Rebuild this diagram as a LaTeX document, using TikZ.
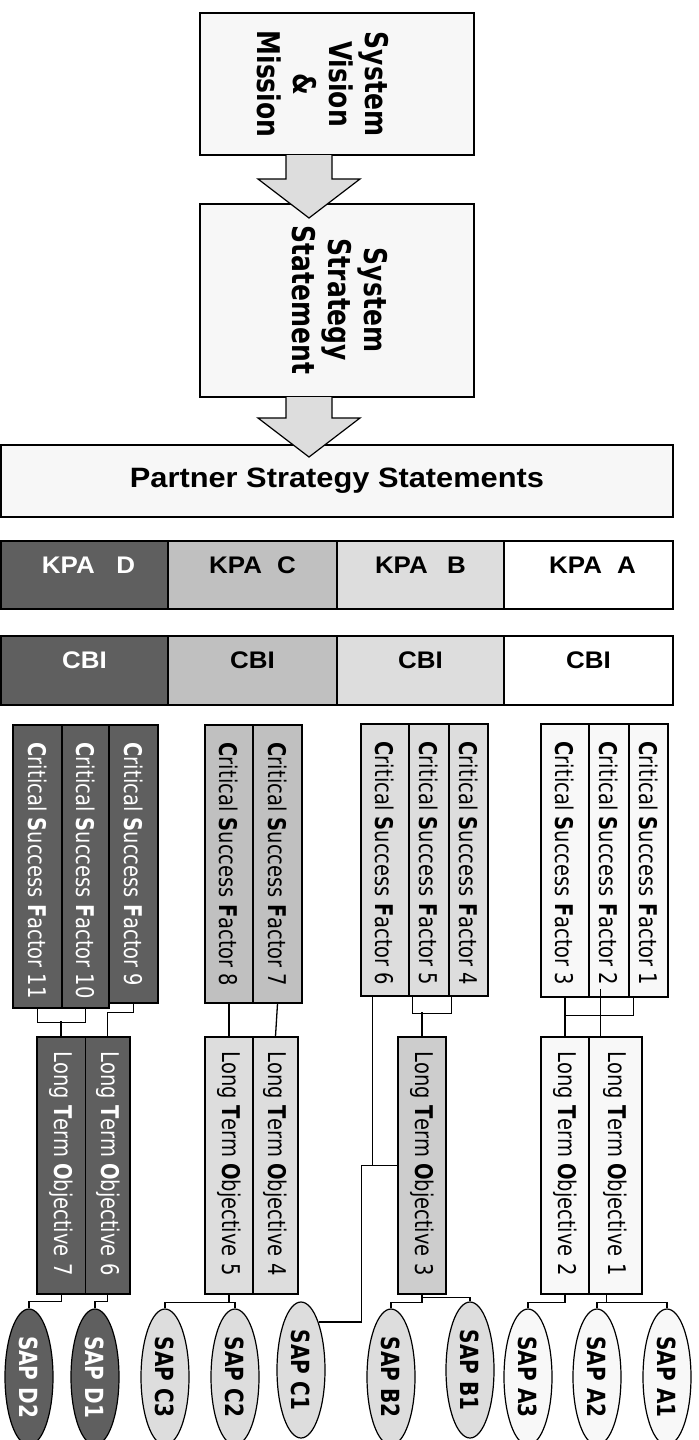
\documentclass[tikz,border=0pt]{standalone}
\usepackage{fontspec}
\setmainfont{DejaVu Sans}
\newfontfamily\lsans{Liberation Sans}
\usetikzlibrary{shapes.geometric,fit,calc}
\definecolor{cD}{HTML}{5F5F5F}
\definecolor{cC}{HTML}{C0C0C0}
\definecolor{cB}{HTML}{DDDDDD}
\definecolor{cBL}{HTML}{CDCDCD}
\definecolor{cA}{HTML}{F8F8F8}
\definecolor{cTop}{HTML}{F7F7F7}
\definecolor{cArrow}{HTML}{DDDDDD}
\newcommand{\vtxt}[1]{\scalebox{1}[1.25]{#1}}
\newcommand{\csfl}[1]{\vtxt{\textbf{C}ritical \textbf{S}uccess \textbf{F}actor #1}}
\newcommand{\ltol}[1]{\vtxt{Long \textbf{T}erm \textbf{O}bjective #1}}
\begin{document}
\begin{tikzpicture}[x=0.5pt,y=-0.5pt,
  box/.style={draw=black,line width=0.75pt,inner sep=0pt},
  bigbox/.style={draw=black,line width=1pt,inner sep=0pt,fill=cTop},
  lbl/.style={rotate=-90,anchor=west,inner sep=0pt,font=\fontsize{9.75pt}{11pt}\selectfont},
  toplbl/.style={rotate=-90,inner sep=0pt,font=\bfseries\fontsize{12.5pt}{14.4pt}\selectfont},
  kpal/.style={inner sep=0pt,font=\lsans\bfseries\fontsize{12pt}{14pt}\selectfont},
  sap/.style={ellipse,draw=black,line width=0.6pt,minimum width=24pt,minimum height=68pt,inner sep=0pt,font=\bfseries\fontsize{10pt}{12pt}\selectfont},
  conn/.style={draw=black,line width=0.65pt},
  connthick/.style={draw=black,line width=1.1pt},
  blockarrow/.style={draw=black,line width=0.6pt,fill=cArrow,line join=miter}]
\clip (0,0) rectangle (698,1440);
% top boxes
\node[bigbox,fit={(200,13) (474,155)}] (box1) {};
\node[toplbl] (box1t) at (319,84) {\vtxt{\begin{tabular}{@{}c@{}}System\\Vision\\\&\\Mission\end{tabular}}};
\node[bigbox,fit={(200,204) (474,397)}] (box2) {};
\node[toplbl] (box2t) at (336,300) {\vtxt{\begin{tabular}{@{}c@{}}System\\Strategy\\Statement\end{tabular}}};
\node[box,fill=cTop,fit={(1,445) (673,517)}] (partner) {};
\node[inner sep=0pt,font=\lsans\bfseries\fontsize{14pt}{16pt}\selectfont] (partnert) at (partner.center) {\scalebox{1.1}[1]{Partner Strategy Statements}};
% arrows
\draw[blockarrow] (286,155) -- (286,179) -- (258,179) -- (309,218) -- (360,179) -- (332,179) -- (332,155);
\draw[blockarrow] (286,397) -- (286,418) -- (258,418) -- (309,457) -- (360,418) -- (332,418) -- (332,397);
% KPA row
\node[box,fill=cD,fit={(1,541) (168,609)}] (kpad) {};
\node[box,fill=cC,fit={(168,541) (337,609)}] (kpac) {};
\node[box,fill=cB,fit={(337,541) (504,609)}] (kpab) {};
\node[box,fill=white,fit={(504,541) (673,609)}] (kpaa) {};
\node[kpal,text=white] (kpadt) at ($(kpad.north)+(4,25)$) {\scalebox{1.08}[1]{KPA\hspace{10pt}D}};
\node[kpal] (kpact) at ($(kpac.north)+(0,25)$) {\scalebox{1.08}[1]{KPA\hspace{7pt}C}};
\node[kpal] (kpabt) at ($(kpab.north)+(0,25)$) {\scalebox{1.08}[1]{KPA\hspace{9pt}B}};
\node[kpal] (kpaat) at ($(kpaa.north)+(4,25)$) {\scalebox{1.08}[1]{KPA\hspace{7pt}A}};
% CBI row
\node[box,fill=cD,fit={(1,636) (168,705)}] (cbid) {};
\node[box,fill=cC,fit={(168,636) (337,705)}] (cbic) {};
\node[box,fill=cB,fit={(337,636) (504,705)}] (cbib) {};
\node[box,fill=white,fit={(504,636) (673,705)}] (cbia) {};
\node[kpal,text=white] (cbidt) at ($(cbid.north)+(0,25)$) {\scalebox{1.08}[1]{CBI}};
\node[kpal] (cbict) at ($(cbic.north)+(0,25)$) {\scalebox{1.08}[1]{CBI}};
\node[kpal] (cbibt) at ($(cbib.north)+(0,25)$) {\scalebox{1.08}[1]{CBI}};
\node[kpal] (cbiat) at ($(cbia.north)+(0,25)$) {\scalebox{1.08}[1]{CBI}};
% CSF boxes
\node[box,fill=cD,fit={(13,725) (62,1008)}] (csf11) {};
\node[box,fill=cD,fit={(62,725) (109,1008)}] (csf10) {};
\node[box,fill=cD,fit={(109,725) (158,1003)}] (csf9) {};
\node[box,fill=cC,fit={(205,725) (253,1003)}] (csf8) {};
\node[box,fill=cC,fit={(253,725) (302,1003)}] (csf7) {};
\node[box,fill=cB,fit={(361,724) (409,996)}] (csf6) {};
\node[box,fill=cB,fit={(409,724) (449,996)}] (csf5) {};
\node[box,fill=cB,fit={(449,724) (488,996)}] (csf4) {};
\node[box,fill=cA,fit={(541,724) (589,997)}] (csf3) {};
\node[box,fill=cA,fit={(589,724) (629,997)}] (csf2) {};
\node[box,fill=cA,fit={(629,724) (668,997)}] (csf1) {};
\node[lbl,text=white] (csf11t) at ($(csf11.north)+(0,18)$) {\csfl{11}};
\node[lbl,text=white] (csf10t) at ($(csf10.north)+(0,18)$) {\csfl{10}};
\node[lbl,text=white] (csf9t) at ($(csf9.north)+(0,18)$) {\csfl{9}};
\node[lbl] (csf8t) at ($(csf8.north)+(0,18)$) {\csfl{8}};
\node[lbl] (csf7t) at ($(csf7.north)+(0,18)$) {\csfl{7}};
\node[lbl] (csf6t) at ($(csf6.north)+(0,18)$) {\csfl{6}};
\node[lbl] (csf5t) at ($(csf5.north)+(0,18)$) {\csfl{5}};
\node[lbl] (csf4t) at ($(csf4.north)+(0,18)$) {\csfl{4}};
\node[lbl] (csf3t) at ($(csf3.north)+(0,18)$) {\csfl{3}};
\node[lbl] (csf2t) at ($(csf2.north)+(0,18)$) {\csfl{2}};
\node[lbl] (csf1t) at ($(csf1.north)+(0,18)$) {\csfl{1}};
% LTO boxes
\node[box,fill=cD,fit={(37,1037) (85.5,1294)}] (lto7) {};
\node[box,fill=cD,fit={(85.5,1037) (130,1294)}] (lto6) {};
\node[box,fill=cB,fit={(205,1037) (253,1294)}] (lto5) {};
\node[box,fill=cB,fit={(253,1037) (298,1294)}] (lto4) {};
\node[box,fill=cBL,fit={(398,1037) (446,1294)}] (lto3) {};
\node[box,fill=cA,fit={(541,1037) (589,1294)}] (lto2) {};
\node[box,fill=cA,fit={(589,1037) (642,1294)}] (lto1) {};
\node[lbl,text=white] (lto7t) at ($(lto7.north)+(0,15)$) {\ltol{7}};
\node[lbl,text=white] (lto6t) at ($(lto6.north)+(0,15)$) {\ltol{6}};
\node[lbl] (lto5t) at ($(lto5.north)+(0,15)$) {\ltol{5}};
\node[lbl] (lto4t) at ($(lto4.north)+(0,15)$) {\ltol{4}};
\node[lbl] (lto3t) at ($(lto3.north)+(0,15)$) {\ltol{3}};
\node[lbl] (lto2t) at ($(lto2.north)+(0,15)$) {\ltol{2}};
\node[lbl] (lto1t) at ($(lto1.north)+(0,15)$) {\ltol{1}};
% SAP ellipses
\node[sap,fill=cD,text=white] (sapd2) at (29,1377) {\rotatebox{-90}{\vtxt{SAP D2}}};
\node[sap,fill=cD,text=white] (sapd1) at (95,1377) {\rotatebox{-90}{\vtxt{SAP D1}}};
\node[sap,fill=cB] (sapc3) at (165,1377) {\rotatebox{-90}{\vtxt{SAP C3}}};
\node[sap,fill=cB] (sapc2) at (235,1377) {\rotatebox{-90}{\vtxt{SAP C2}}};
\node[sap,fill=cB] (sapc1) at (301,1370) {\rotatebox{-90}{\vtxt{SAP C1}}};
\node[sap,fill=cB] (sapb2) at (391,1377) {\rotatebox{-90}{\vtxt{SAP B2}}};
\node[sap,fill=cB] (sapb1) at (470,1370) {\rotatebox{-90}{\vtxt{SAP B1}}};
\node[sap,fill=cA] (sapa3) at (528,1377) {\rotatebox{-90}{\vtxt{SAP A3}}};
\node[sap,fill=cA] (sapa2) at (597,1377) {\rotatebox{-90}{\vtxt{SAP A2}}};
\node[sap,fill=cA] (sapa1) at (667,1377) {\rotatebox{-90}{\vtxt{SAP A1}}};
% connectors CSF -> LTO
\draw[conn] (csf11.south) -- ++(0,14) -| (csf10.south);
\draw[connthick] (lto7.north) -- ++(0,-15);
\draw[conn] (csf9.south) -- ++(0,9) -| (lto6.north);
\draw[conn] (csf8.south) -- (lto5.north);
\draw[conn] (csf7.south) -- (lto4.north);
\draw[conn] ($(csf5.south west)+(4,0)$) -- ++(0,17) -| ($(csf4.south west)+(3,0)$);
\draw[connthick] (lto3.north) -- ++(0,-24);
\coordinate (c6) at ($(csf6.south west)+(12,0)$);
\draw[conn] (c6) -- (c6 |- lto3.west);
\draw[conn] (lto3.west) -- ++(-36,0) |- (sapc1.70);
\draw[conn] (csf3.south) -- ++(0,18) -| ($(csf1.south west)+(5,0)$);
\draw[connthick] (lto2.north) -- ++(0,-22);
\draw[conn] ($(csf2.south west)+(12,-9)$) -- ($(lto1.north west)+(12,0)$);
% connectors LTO -> SAP
\draw[conn] (lto7.south) -- ++(0,7) -| (sapd2.north);
\draw[conn] (lto6.south) -- ++(0,7) -| (sapd1.north);
\draw[conn] (lto5.south) -- ++(0,8) coordinate (j5) -| (sapc3.north);
\draw[conn] (j5) -| (sapc2.north);
\draw[conn] (lto3.south) -- ++(0,8) -| (sapb2.north);
\draw[conn] (lto3.south) -- ++(0,3) -| (sapb1.north);
\draw[conn] (lto2.south) -- ++(0,8) -| (sapa3.north);
\coordinate (l1) at ($(lto1.south west)+(18,0)$);
\draw[conn] (l1) -- ++(0,8) coordinate (j1) -| (sapa2.north);
\draw[conn] (j1) -| (sapa1.north);
\end{tikzpicture}
\end{document}
